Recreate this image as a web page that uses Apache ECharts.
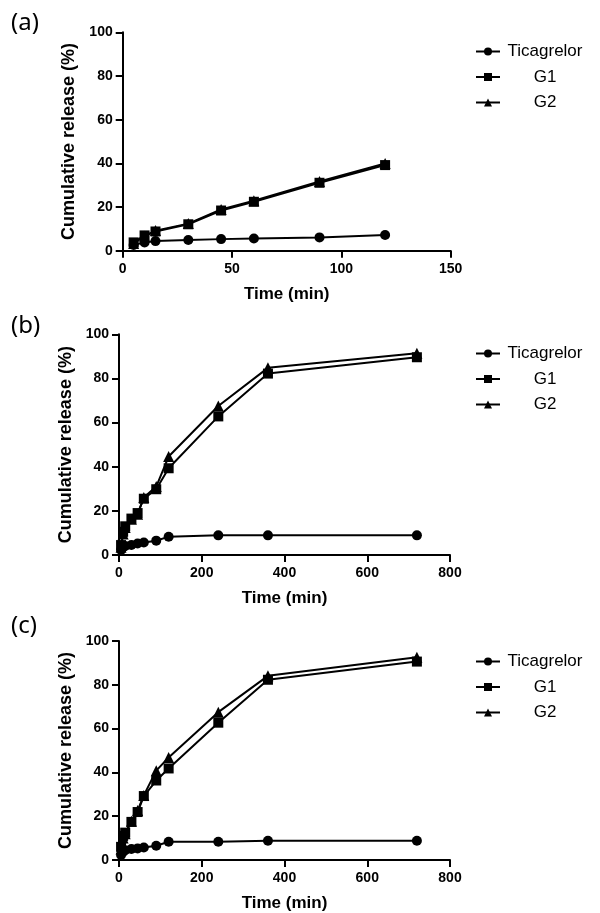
<!DOCTYPE html>
<html>
<head>
<meta charset="utf-8">
<script src="https://cdn.jsdelivr.net/npm/echarts@6/dist/echarts.min.js"></script>
<style>
  html, body { margin: 0; padding: 0; background: #fff; }
  #chart { width: 600px; height: 913px; }
</style>
</head>
<body>
<div id="chart"></div>
<script>
// time points (min)
const timeA = [5, 10, 15, 30, 45, 60, 90, 120];
const timeBC = [5, 10, 15, 30, 45, 60, 90, 120, 240, 360, 720];

// (a) cumulative release (%)
const ticaA = [2.6, 3.8, 4.4, 4.9, 5.3, 5.6, 6.1, 7.2];
const g1A = [3.8, 7.0, 8.8, 12.1, 18.4, 22.4, 31.1, 39.2];
const g2A = [3.3, 6.6, 9.2, 12.4, 18.9, 22.9, 31.7, 39.9];

// (b)
const ticaB = [2.3, 3.5, 4.1, 4.5, 5.2, 5.7, 6.5, 8.3, 8.9, 8.9, 8.9];
const g1B = [4.5, 10.5, 13, 16.5, 19, 25.5, 29.8, 39.3, 62.8, 82.2, 89.6];
const g2B = [3.5, 9.5, 12.5, 16.2, 18.5, 26, 31, 44.6, 67.5, 84.8, 91.4];

// (c)
const ticaC = [2.3, 3.8, 4.5, 5.0, 5.3, 5.7, 6.5, 8.3, 8.3, 8.8, 8.8];
const g1C = [6, 11, 12.5, 17.4, 21.9, 29.2, 36.3, 41.8, 62.7, 82.3, 90.6];
const g2C = [5, 10, 12, 17.7, 22.6, 29.5, 40.8, 46.8, 67.5, 84.1, 92.6];

const panelLabels = ['(a)', '(b)', '(c)'];
const seriesNames = ['Ticagrelor', 'G1', 'G2'];
const xMax = [150, 800, 800];
const xStep = [50, 200, 200];

const panels = [
  { t: timeA, vals: [ticaA, g1A, g2A] },
  { t: timeBC, vals: [ticaB, g1B, g2B] },
  { t: timeBC, vals: [ticaC, g1C, g2C] },
];

// layout of the three plots
const grids = [
  { left: 122.7, top: 32.3, width: 328, height: 218.4 },
  { left: 119, top: 334.3, width: 331, height: 220.7 },
  { left: 119, top: 641, width: 331, height: 220.7 },
];
const legendTops = [38, 340, 648];
const labelTops = [11, 314, 614];

const black = '#000';
const symbols = ['circle', 'rect', 'triangle'];
const symbolSizes = [10, 10, 11];

const chart = echarts.init(document.getElementById('chart'));

const axisCommon = {
  axisLine: { show: true, onZero: false, lineStyle: { color: black, width: 2 } },
  axisTick: { show: true, length: 7, lineStyle: { color: black, width: 2 } },
  splitLine: { show: false },
  axisLabel: { color: black, fontFamily: 'Liberation Sans', fontWeight: 'bold', fontSize: 14 },
};

const series = [];
panels.forEach((p, i) => {
  p.vals.forEach((v, k) => {
    series.push({
      name: seriesNames[k],
      type: 'line',
      xAxisIndex: i,
      yAxisIndex: i,
      data: p.t.map((t, j) => [t, v[j]]),
      symbol: symbols[k],
      symbolSize: symbolSizes[k],
      itemStyle: { color: black },
      lineStyle: { color: black, width: 2 },
      animation: false,
    });
  });
});

chart.setOption({
  backgroundColor: '#fff',
  title: panelLabels.map((s, i) => ({
    text: s,
    left: 11,
    top: labelTops[i],
    padding: 0,
    textStyle: { color: black, fontFamily: 'Noto Sans', fontWeight: 'normal', fontSize: 24 },
  })),
  legend: legendTops.map((top) => ({
    orient: 'vertical',
    left: 470,
    top: top,
    data: seriesNames,
    itemWidth: 24,
    itemHeight: 10,
    itemGap: 8.5,
    selectedMode: false,
    formatter: (name) => '{n|' + name + '}',
    textStyle: {
      color: black,
      rich: { n: { width: 80, align: 'center', fontFamily: 'Liberation Sans', fontSize: 17, lineHeight: 18, color: black } },
    },
  })),
  grid: grids.map((g) => Object.assign({ containLabel: false }, g)),
  xAxis: grids.map((g, i) => Object.assign({}, axisCommon, {
    type: 'value',
    gridIndex: i,
    min: 0,
    max: xMax[i],
    interval: xStep[i],
    name: 'Time (min)',
    nameLocation: 'middle',
    nameGap: 35,
    nameTextStyle: { color: black, fontFamily: 'Liberation Sans', fontWeight: 'bold', fontSize: 17 },
    axisLabel: Object.assign({}, axisCommon.axisLabel, { margin: 11 }),
  })),
  yAxis: grids.map((g, i) => Object.assign({}, axisCommon, {
    type: 'value',
    gridIndex: i,
    min: 0,
    max: 100,
    interval: 20,
    name: 'Cumulative release (%)',
    nameLocation: 'middle',
    nameGap: 40,
    nameTextStyle: { color: black, fontFamily: 'Liberation Sans', fontWeight: 'bold', fontSize: 18 },
    axisLabel: Object.assign({}, axisCommon.axisLabel, { margin: 10 }),
  })),
  series: series,
});
</script>
</body>
</html>
